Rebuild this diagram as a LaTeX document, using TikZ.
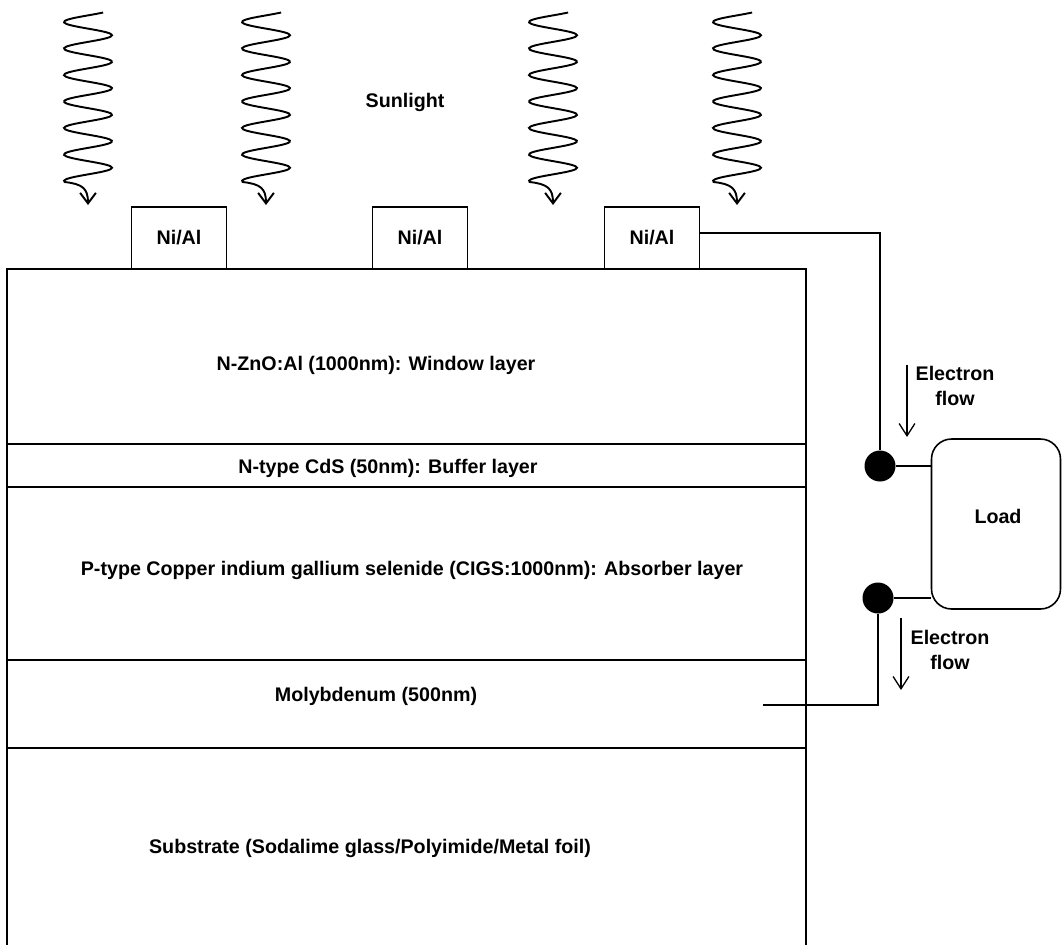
\documentclass[tikz,border=0pt]{standalone}
\usepackage{fontspec}
\setmainfont{Liberation Sans}
\usetikzlibrary{arrows.meta,calc,positioning}
\tikzset{
  layer/.style={draw=black,line width=1.1pt},
  lbl/.style={font=\fontsize{11.2}{14.2}\selectfont\bfseries,inner sep=0pt},
  contact/.style={draw,line width=0.9pt,minimum width=1.9cm,minimum height=1.24cm,inner sep=0pt,
    font=\fontsize{11.2}{14.2}\selectfont\bfseries},
  wire/.style={line width=0.9pt},
  pad/.style={circle,fill=black,minimum size=0.62cm,inner sep=0pt},
  loadbox/.style={draw,line width=0.9pt,rounded corners=0.4cm,minimum width=2.58cm,minimum height=3.4cm},
  flow/.style={-{Straight Barb[length=7pt,width=9pt]},line width=0.75pt},
  sunray/.style={line width=1.1pt,-{Straight Barb[length=6pt,width=9pt]}}
}
\begin{document}
\begin{tikzpicture}[x=0.02cm,y=-0.02cm]
\useasboundingbox (0,0) rectangle (1062,944);
% sunlight
\foreach \cx in {88,266,553,737}
  \draw[sunray] plot[domain=12.5:182,samples=120,smooth,variable=\t] ({\cx-24*cos((\t-22)/26.5*360)},\t)
    .. controls (\cx-6,184) and (\cx,188) .. (\cx,205);
\node[lbl] (sun) at (405,102) {Sunlight};
% layer stack
\draw[layer] (7,950) -- (7,269) -- (806,269) -- (806,950);
\draw[layer] (7,444) -- (806,444);
\draw[layer] (7,487) -- (806,487);
\draw[layer] (7,660) -- (806,660);
\draw[layer] (7,748) -- (806,748);
\node[lbl] (zno) at (376,365) {N-ZnO:Al (1000nm): Window layer};
\node[lbl] (cds) at (388,468) {N-type CdS (50nm): Buffer layer};
\node[lbl] (cigs) at (412,570) {P-type Copper indium gallium selenide (CIGS:1000nm): Absorber layer};
\node[lbl] (mo) at (376,696) {Molybdenum (500nm)};
\node[lbl] (sub) at (370,848) {Substrate (Sodalime glass/Polyimide/Metal foil)};
% contacts
\node[contact] (nial1) at (179,238) {Ni/Al};
\node[contact] (nial2) at (420,238) {Ni/Al};
\node[contact] (nial3) at (652,238) {Ni/Al};
% circuit
\node[loadbox] (load) at (996,524) {};
\node[lbl] (loadtxt) at (998,516) {Load};
\node[pad] (dot1) at (880,466) {};
\node[pad] (dot2) at (878,598) {};
\coordinate (moend) at (763,705);
\draw[wire] ([yshift=0.1cm]nial3.east) -| (dot1);
\draw[wire] (dot1) -- (dot1 -| load.west);
\draw[wire] (dot2) -- (dot2 -| load.west);
\draw[wire] (dot2) |- (moend);
% electron flow
\coordinate (f1a) at (907,365); \coordinate (f1b) at (907,437);
\coordinate (f2a) at (901,618); \coordinate (f2b) at (901,690);
\draw[flow] (f1a) -- (f1b);
\draw[flow] (f2a) -- (f2b);
\node[lbl,align=center] (flow1) at (955,386) {Electron\\flow};
\node[lbl,align=center] (flow2) at (950,650) {Electron\\flow};
\end{tikzpicture}
\end{document}
